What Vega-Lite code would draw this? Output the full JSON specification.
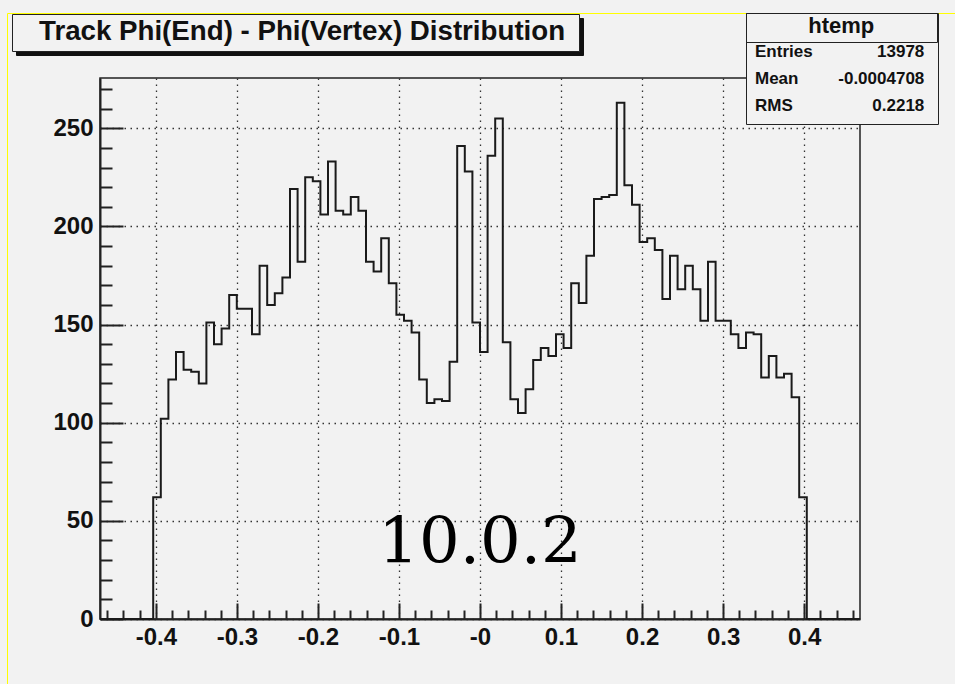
{
  "$schema": "https://vega.github.io/schema/vega-lite/v6.json",
  "width": 760,
  "height": 541,
  "autosize": {"type": "none"},
  "padding": {"left": 100, "top": 78, "right": 95, "bottom": 65},
  "background": "#f2f2f2",
  "config": {
    "font": "Liberation Sans",
    "view": {"stroke": "#222", "strokeWidth": 1.5},
    "point": {"size": 0, "strokeWidth": 0, "opacity": 0},
    "axis": {
      "domainColor": "#222", "domainWidth": 2,
      "tickColor": "#222", "tickWidth": 2,
      "labelFont": "Liberation Sans", "labelFontWeight": "bold", "labelFontSize": 24, "labelColor": "#111",
      "labelFlush": false, "labelOverlap": false,
      "title": null,
      "gridColor": "#333", "gridDash": [1.5, 4.5], "gridWidth": 1.3, "gridOpacity": 1
    },
    "legend": {
      "orient": "none", "direction": "vertical", "columns": 1,
      "labelFont": "Liberation Sans", "labelFontWeight": "bold", "labelColor": "#111", "labelLimit": 2000,
      "titleFont": "Liberation Sans", "titleFontWeight": "bold", "titleColor": "#111", "titleLimit": 2000,
      "symbolOpacity": 0, "symbolStrokeWidth": 0, "rowPadding": 0
    }
  },
  "datasets": {
    "hist": [
      {"phi": -0.469, "entries": 0}, {"phi": -0.45962, "entries": 0}, {"phi": -0.45024, "entries": 0},
      {"phi": -0.44086, "entries": 0}, {"phi": -0.43148, "entries": 0}, {"phi": -0.4221, "entries": 0},
      {"phi": -0.41272, "entries": 0}, {"phi": -0.40334, "entries": 62}, {"phi": -0.39396, "entries": 102},
      {"phi": -0.38458, "entries": 122}, {"phi": -0.3752, "entries": 136}, {"phi": -0.36582, "entries": 127},
      {"phi": -0.35644, "entries": 126}, {"phi": -0.34706, "entries": 120}, {"phi": -0.33768, "entries": 151},
      {"phi": -0.3283, "entries": 140}, {"phi": -0.31892, "entries": 148}, {"phi": -0.30954, "entries": 165},
      {"phi": -0.30016, "entries": 158}, {"phi": -0.29078, "entries": 158}, {"phi": -0.2814, "entries": 145},
      {"phi": -0.27202, "entries": 180}, {"phi": -0.26264, "entries": 160}, {"phi": -0.25326, "entries": 166},
      {"phi": -0.24388, "entries": 174}, {"phi": -0.2345, "entries": 219}, {"phi": -0.22512, "entries": 182},
      {"phi": -0.21574, "entries": 225}, {"phi": -0.20636, "entries": 223}, {"phi": -0.19698, "entries": 206},
      {"phi": -0.1876, "entries": 233}, {"phi": -0.17822, "entries": 208}, {"phi": -0.16884, "entries": 206},
      {"phi": -0.15946, "entries": 215}, {"phi": -0.15008, "entries": 208}, {"phi": -0.1407, "entries": 182},
      {"phi": -0.13132, "entries": 177}, {"phi": -0.12194, "entries": 194}, {"phi": -0.11256, "entries": 171},
      {"phi": -0.10318, "entries": 155}, {"phi": -0.0938, "entries": 152}, {"phi": -0.08442, "entries": 146},
      {"phi": -0.07504, "entries": 122}, {"phi": -0.06566, "entries": 110}, {"phi": -0.05628, "entries": 112},
      {"phi": -0.0469, "entries": 111}, {"phi": -0.03752, "entries": 131}, {"phi": -0.02814, "entries": 241},
      {"phi": -0.01876, "entries": 228}, {"phi": -0.00938, "entries": 151}, {"phi": 0, "entries": 136},
      {"phi": 0.00938, "entries": 236}, {"phi": 0.01876, "entries": 255}, {"phi": 0.02814, "entries": 141},
      {"phi": 0.03752, "entries": 112}, {"phi": 0.0469, "entries": 105}, {"phi": 0.05628, "entries": 117},
      {"phi": 0.06566, "entries": 132}, {"phi": 0.07504, "entries": 138}, {"phi": 0.08442, "entries": 134},
      {"phi": 0.0938, "entries": 145}, {"phi": 0.10318, "entries": 138}, {"phi": 0.11256, "entries": 171},
      {"phi": 0.12194, "entries": 161}, {"phi": 0.13132, "entries": 185}, {"phi": 0.1407, "entries": 214},
      {"phi": 0.15008, "entries": 215}, {"phi": 0.15946, "entries": 216}, {"phi": 0.16884, "entries": 263},
      {"phi": 0.17822, "entries": 221}, {"phi": 0.1876, "entries": 211}, {"phi": 0.19698, "entries": 192},
      {"phi": 0.20636, "entries": 194}, {"phi": 0.21574, "entries": 188}, {"phi": 0.22512, "entries": 163},
      {"phi": 0.2345, "entries": 185}, {"phi": 0.24388, "entries": 168}, {"phi": 0.25326, "entries": 180},
      {"phi": 0.26264, "entries": 168}, {"phi": 0.27202, "entries": 152}, {"phi": 0.2814, "entries": 182},
      {"phi": 0.29078, "entries": 152}, {"phi": 0.30016, "entries": 152}, {"phi": 0.30954, "entries": 145},
      {"phi": 0.31892, "entries": 138}, {"phi": 0.3283, "entries": 146}, {"phi": 0.33768, "entries": 145},
      {"phi": 0.34706, "entries": 123}, {"phi": 0.35644, "entries": 134}, {"phi": 0.36582, "entries": 123},
      {"phi": 0.3752, "entries": 125}, {"phi": 0.38458, "entries": 113}, {"phi": 0.39396, "entries": 62},
      {"phi": 0.40334, "entries": 0}, {"phi": 0.41272, "entries": 0}, {"phi": 0.4221, "entries": 0},
      {"phi": 0.43148, "entries": 0}, {"phi": 0.44086, "entries": 0}, {"phi": 0.45024, "entries": 0},
      {"phi": 0.45962, "entries": 0}, {"phi": 0.469, "entries": 0}
    ],
    "version": [{"version": "10.0.2"}],
    "caption": [{"caption": "Track Phi(End) - Phi(Vertex) Distribution"}],
    "captionShadow": [{"captionShadow": "Track Phi(End) - Phi(Vertex) Distribution"}],
    "stats": [
      {"stat": "Entries", "value": "13978"},
      {"stat": "Mean", "value": "-0.0004708"},
      {"stat": "RMS", "value": "0.2218"}
    ],
    "statsShadow": [
      {"statShadow": "Entries"},
      {"statShadow": "Mean"},
      {"statShadow": "RMS"}
    ],
    "header": [{"header": "htemp"}],
    "frameInner": [{"frameInner": "canvas"}],
    "frameOuter": [{"frameOuter": "canvas"}]
  },
  "resolve": {"axis": {"x": "independent", "y": "independent"}},
  "layer": [
    {
      "data": {"name": "hist"},
      "mark": {"type": "line", "interpolate": "step-after", "color": "#1a1a1a", "strokeWidth": 2},
      "encoding": {
        "x": {"field": "phi", "type": "quantitative",
              "scale": {"domain": [-0.469, 0.469], "nice": false, "zero": false},
              "axis": {"orient": "bottom", "values": [-0.4, -0.3, -0.2, -0.1, 0, 0.1, 0.2, 0.3, 0.4],
                       "ticks": false, "grid": true, "labelPadding": 6,
                       "labelExpr": "datum.value == 0 ? '-0' : (datum.value < 0 ? '-' + format(-datum.value, '.1f') : format(datum.value, '.1f'))"}},
        "y": {"field": "entries", "type": "quantitative",
              "scale": {"domain": [0, 275.6], "nice": false},
              "axis": {"orient": "left", "values": [0, 50, 100, 150, 200, 250],
                       "ticks": false, "grid": true, "labelPadding": 7}}
      }
    },
    {
      "data": {"name": "hist"},
      "mark": {"type": "line", "opacity": 0},
      "encoding": {
        "x": {"field": "phi", "type": "quantitative",
              "scale": {"domain": [-0.469, 0.469], "nice": false, "zero": false},
              "axis": {"orient": "bottom", "values": [-0.4, -0.3, -0.2, -0.1, 0, 0.1, 0.2, 0.3, 0.4],
                       "labels": false, "grid": false, "domain": false, "tickSize": -16}},
        "y": {"field": "entries", "type": "quantitative",
              "scale": {"domain": [0, 275.6], "nice": false},
              "axis": {"orient": "left", "values": [0, 50, 100, 150, 200, 250],
                       "labels": false, "grid": false, "domain": false, "tickSize": -23}}
      }
    },
    {
      "data": {"name": "hist"},
      "mark": {"type": "line", "opacity": 0},
      "encoding": {
        "x": {"field": "phi", "type": "quantitative",
              "scale": {"domain": [-0.469, 0.469], "nice": false, "zero": false},
              "axis": {"orient": "bottom",
                       "values": [-0.46, -0.44, -0.42, -0.38, -0.36, -0.34, -0.32, -0.28, -0.26, -0.24, -0.22, -0.18, -0.16, -0.14, -0.12, -0.08, -0.06, -0.04, -0.02, 0.02, 0.04, 0.06, 0.08, 0.12, 0.14, 0.16, 0.18, 0.22, 0.24, 0.26, 0.28, 0.32, 0.34, 0.36, 0.38, 0.42, 0.44, 0.46],
                       "labels": false, "grid": false, "domain": false, "tickSize": -9}},
        "y": {"field": "entries", "type": "quantitative",
              "scale": {"domain": [0, 275.6], "nice": false},
              "axis": {"orient": "left",
                       "values": [10, 20, 30, 40, 60, 70, 80, 90, 110, 120, 130, 140, 160, 170, 180, 190, 210, 220, 230, 240, 260, 270],
                       "labels": false, "grid": false, "domain": false, "tickSize": -12}}
      }
    },
    {
      "data": {"name": "version"},
      "mark": {"type": "text", "font": "DejaVu Serif", "fontSize": 64, "color": "#000",
               "align": "center", "baseline": "alphabetic"},
      "encoding": {
        "text": {"field": "version", "type": "nominal"},
        "x": {"datum": 0, "type": "quantitative", "axis": null},
        "y": {"datum": 28.7, "type": "quantitative", "axis": null}
      }
    },
    {
      "data": {"name": "frameOuter"},
      "mark": {"type": "point", "size": 0, "opacity": 0},
      "encoding": {
        "strokeOpacity": {"field": "frameOuter", "type": "ordinal",
                   "legend": {"legendX": -110, "legendY": -95, "title": null, "padding": 0,
                              "strokeColor": "#b8b800",
                              "symbolSize": 10000, "symbolType": "M-1,-1H18.2V13H-1Z",
                              "labelFontSize": 1, "labelOffset": 0, "labelExpr": "''",
                              "encode": {"legend": {"update": {"strokeWidth": {"value": 5}}}}}}
      }
    },
    {
      "data": {"name": "frameInner"},
      "mark": {"type": "point", "size": 0, "opacity": 0},
      "encoding": {
        "stroke": {"field": "frameInner", "type": "nominal",
                   "legend": {"legendX": -93, "legendY": -65, "title": null, "padding": 0,
                              "strokeColor": "#ffff00",
                              "symbolSize": 10000, "symbolType": "M-1,-1H18.6V13H-1Z",
                              "labelFontSize": 1, "labelOffset": 0, "labelExpr": "''",
                              "encode": {"legend": {"update": {"strokeWidth": {"value": 4}}}}}}
      }
    },
    {
      "data": {"name": "captionShadow"},
      "mark": {"type": "point", "size": 0, "opacity": 0},
      "encoding": {
        "opacity": {"field": "captionShadow", "type": "ordinal",
                  "legend": {"legendX": -84, "legendY": -60, "title": null, "padding": 4.5,
                             "strokeColor": "#111", "fillColor": "#111",
                             "symbolSize": 729, "symbolType": "M-1,-1H40.26V1H-1Z",
                             "labelFontSize": 27.7, "labelOffset": -5.2, "labelExpr": "''"}}
      }
    },
    {
      "data": {"name": "caption"},
      "mark": {"type": "point", "size": 0, "opacity": 0},
      "encoding": {
        "color": {"field": "caption", "type": "nominal",
                  "legend": {"legendX": -88, "legendY": -64, "title": null, "padding": 4.5,
                             "strokeColor": "#222", "fillColor": "#f2f2f2",
                             "symbolSize": 729, "symbolType": "M-1,-1H40.26V1H-1Z",
                             "labelFontSize": 27.7, "labelOffset": -5.2,
                             "encode": {"legend": {"update": {"strokeWidth": {"value": 1.5}}}}}}
      }
    },
    {
      "data": {"name": "statsShadow"},
      "mark": {"type": "point", "size": 0, "opacity": 0},
      "encoding": {
        "fillOpacity": {"field": "statShadow", "type": "ordinal",
                  "legend": {"legendX": 649, "legendY": -62, "title": "htemp", "titleAnchor": "middle",
                             "titleFontSize": 22, "titlePadding": 0.5, "padding": 3.3, "titleColor": "#111",
                             "strokeColor": "#111", "fillColor": "#111",
                             "symbolSize": 729, "symbolType": "M-1,-1H12.66V1H-1Z",
                             "labelFontSize": 17, "labelOffset": -21.3, "labelExpr": "''"}}
      }
    },
    {
      "data": {"name": "stats"},
      "mark": {"type": "point", "size": 0, "opacity": 0},
      "encoding": {
        "shape": {"field": "stat", "type": "nominal",
                  "scale": {"range": ["M-1,-1H12.66V1H-1Z", "M-1,-1H12.66V1H-1Z", "M-1,-1H12.66V1H-1Z"]},
                  "legend": {"legendX": 646, "legendY": -65, "title": "htemp", "titleAnchor": "middle",
                             "titleFontSize": 22, "titlePadding": 0.5, "padding": 3.3,
                             "strokeColor": "#222", "fillColor": "#f2f2f2",
                             "symbolSize": 729,
                             "labelFontSize": 17, "labelOffset": -21.3,
                             "encode": {"legend": {"update": {"strokeWidth": {"value": 1.5}}}}}}
      }
    },
    {
      "data": {"name": "header"},
      "mark": {"type": "point", "size": 0, "opacity": 0},
      "encoding": {
        "fill": {"field": "header", "type": "nominal",
                 "legend": {"legendX": 646, "legendY": -65, "title": null, "padding": 0,
                            "strokeColor": "#222",
                            "symbolSize": 841, "symbolType": "M-1,-1H12.17V1H-1Z",
                            "labelFontSize": 1, "labelOffset": -20, "labelExpr": "''",
                            "encode": {"legend": {"update": {"strokeWidth": {"value": 1.5}}}}}}
      }
    },
    {
      "data": {"name": "stats"},
      "mark": {"type": "point", "size": 0, "opacity": 0},
      "encoding": {
        "strokeDash": {"field": "value", "type": "nominal",
                       "scale": {"domain": ["13978", "-0.0004708", "0.2218"]},
                       "legend": {"legendX": 797.3, "legendY": -39.2, "title": null, "padding": 0,
                                  "symbolSize": 729, "symbolType": "square",
                                  "labelFontSize": 17, "labelOffset": 0, "labelAlign": "right"}}
      }
    }
  ]
}
